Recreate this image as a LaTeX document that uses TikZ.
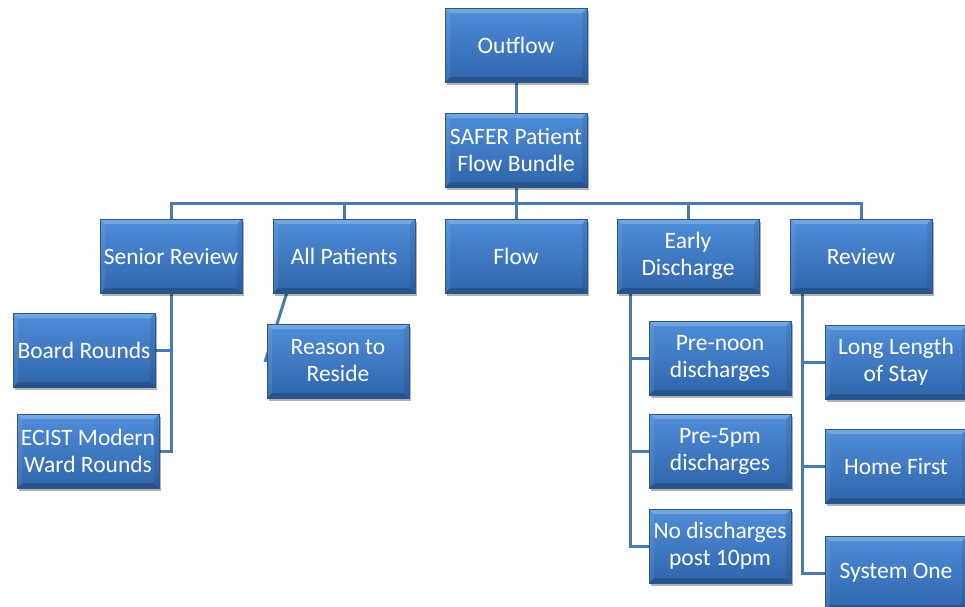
\documentclass[tikz,border=0pt]{standalone}
\usepackage{fontspec}
\setmainfont{Carlito}
\usetikzlibrary{shadows,backgrounds}
\definecolor{boxtop}{HTML}{4F8ED9}
\definecolor{boxbot}{HTML}{2F65AB}
\definecolor{boxedge}{HTML}{2B5791}
\definecolor{linec}{HTML}{4A79B3}
\begin{document}
\begin{tikzpicture}[x=1pt,y=-1pt,
  box/.style={draw=boxedge, line width=0.8pt, top color=boxtop, bottom color=boxbot,
    minimum width=142pt, minimum height=74pt, align=center, text=white,
    font=\fontsize{23.5}{27}\selectfont, inner sep=0pt,
    drop shadow={shadow xshift=2pt, shadow yshift=-3pt, opacity=0.3, fill=black},
    path picture={
      \fill[white,opacity=0.22] (path picture bounding box.north west) -- (path picture bounding box.north east)
        -- ([xshift=-5pt,yshift=-5pt]path picture bounding box.north east) -- ([xshift=5pt,yshift=-5pt]path picture bounding box.north west) -- cycle;
      \fill[black,opacity=0.18] (path picture bounding box.south west) -- (path picture bounding box.south east)
        -- ([xshift=-5pt,yshift=5pt]path picture bounding box.south east) -- ([xshift=5pt,yshift=5pt]path picture bounding box.south west) -- cycle;
      \fill[black,opacity=0.08] (path picture bounding box.north east) -- (path picture bounding box.south east)
        -- ([xshift=-5pt,yshift=5pt]path picture bounding box.south east) -- ([xshift=-5pt,yshift=-5pt]path picture bounding box.north east) -- cycle;
      \fill[white,opacity=0.08] (path picture bounding box.north west) -- (path picture bounding box.south west)
        -- ([xshift=5pt,yshift=5pt]path picture bounding box.south west) -- ([xshift=5pt,yshift=-5pt]path picture bounding box.north west) -- cycle;
    }},
  conn/.style={draw=linec, line width=3pt}]
\useasboundingbox (0,0) rectangle (965,606);

\node[box] (outflow) at (516,45) {Outflow};
\node[box] (safer) at (516,150) {SAFER Patient\\Flow Bundle};
\node[box] (senior) at (171,256) {Senior Review};
\node[box] (allp) at (344,256) {All Patients};
\node[box] (flow) at (516,256) {Flow};
\node[box] (early) at (688,256) {Early\\Discharge};
\node[box] (review) at (861,256) {Review};

\node[box] (board) at (84,350) {Board Rounds};
\node[box] (ecist) at (88,451) {ECIST Modern\\Ward Rounds};
\node[box] (reason) at (338,361) {Reason to\\Reside};

\node[box] (prenoon) at (720,358) {Pre-noon\\discharges};
\node[box] (pre5) at (720,451) {Pre-5pm\\discharges};
\node[box] (nodis) at (720,546) {No discharges\\post 10pm};

\node[box] (los) at (896,362) {Long Length\\of Stay};
\node[box] (home) at (896,466) {Home First};
\node[box] (sysone) at (896,573) {System One};

\coordinate (bar) at (516,203);
\coordinate (es) at ([xshift=14pt]early.south west);
\coordinate (rs) at ([xshift=13pt]review.south west);
\coordinate (ap) at ([xshift=14pt]allp.south west);
\coordinate (apend) at (265,362);

\begin{scope}[on background layer]
\draw[conn] (outflow) -- (safer);
\draw[conn] (safer.south) -- (flow.north);
\draw[conn] (senior.north) |- (bar) -| (review.north);
\draw[conn] (allp.north) -- (allp.north |- bar);
\draw[conn] (early.north) -- (early.north |- bar);
\draw[conn] (senior.south) |- (ecist.east);
\draw[conn] (board.east) -- (board.east -| senior.south);
\draw[conn] (ap) -- (apend);
\draw[conn] (es) |- (nodis.west);
\draw[conn] (prenoon.west) -- (prenoon.west -| es);
\draw[conn] (pre5.west) -- (pre5.west -| es);
\draw[conn] (rs) |- (sysone.west);
\draw[conn] (los.west) -- (los.west -| rs);
\draw[conn] (home.west) -- (home.west -| rs);
\end{scope}
\end{tikzpicture}
\end{document}
